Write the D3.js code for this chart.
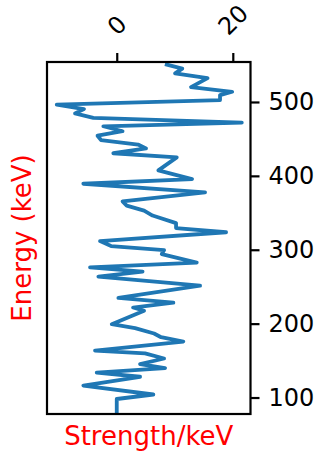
<!DOCTYPE html>
<html><head><meta charset="utf-8">
<script src="https://cdn.jsdelivr.net/npm/d3@7"></script>
<style>body{margin:0;background:#fff}svg{display:block}text{font-family:"DejaVu Sans",sans-serif}</style>
</head><body><svg id="c" width="322" height="451"></svg>
<script>
const strength = [8.3,11.3,10.05,15.65,12.8,19.9,17.8,17.8,-10.34,-5.64,-7.19,-4.03,21.55,-2.31,1.0,-3.31,-2.71,3.67,5.05,-0.59,10.34,7.17,12.98,-5.76,15.22,1.0,1.72,4.71,6.17,10.22,10.22,18.84,-2.88,-0.98,8.16,7.76,13.79,-4.6,4.45,-3.17,14.36,0.28,9.76,2.81,4.71,-0.86,3.16,6.43,7.64,11.48,-3.74,4.88,8.16,4.02,8.33,-3.45,4.02,-5.76,6.31,0.0,0.0];
const energy = [551.3,545.2,538.7,532.3,520.2,513.8,509.3,502.6,496.4,490.4,484.6,478.6,472.1,467.1,460.4,454.3,448.5,442.4,437.2,430.6,425.0,407.4,395.7,389.3,377.7,365.5,359.8,353.0,346.3,336.1,329.4,323.7,311.8,305.0,299.6,294.2,282.7,276.2,270.5,263.7,251.3,234.9,228.3,221.8,217.5,199.2,194.0,186.6,181.6,175.8,163.6,159.8,152.8,145.3,139.9,133.8,128.1,116.2,104.1,98.0,78.0];
const xTicks = [0, 20];
const yTicks = [100, 200, 300, 400, 500];
const xLabel = "Strength/keV";
const yLabel = "Energy (keV)";

const L = 47, R = 250.5, T = 62, B = 414;
const svg = d3.select("#c");
const x = d3.scaleLinear().domain([-12.02, 23.05]).range([L, R]);
const y = d3.scaleLinear().domain([77.7, 554.1]).range([B, T]);

svg.append("clipPath").attr("id","clip").append("rect")
  .attr("x",L).attr("y",T).attr("width",R-L).attr("height",B-T);

const pts = strength.map((s,i)=>[s, energy[i]]);
svg.append("path").datum(pts)
  .attr("clip-path","url(#clip)")
  .attr("fill","none").attr("stroke","#1f77b4").attr("stroke-width",3.8)
  .attr("stroke-linejoin","round").attr("stroke-linecap","butt")
  .attr("d", d3.line().x(d=>x(d[0])).y(d=>y(d[1])));

// right axis
const ya = svg.append("g").attr("transform",`translate(${R},0)`)
  .call(d3.axisRight(y).tickValues(yTicks).tickSize(9).tickPadding(9).tickFormat(d3.format("d")));
ya.select(".domain").remove();
ya.selectAll("line").attr("stroke","#000").attr("stroke-width",2.2);
ya.selectAll("text").attr("font-size",24).attr("fill","#000").attr("font-family","DejaVu Sans");

// top axis
const xa = svg.append("g").attr("transform",`translate(0,${T})`)
  .call(d3.axisTop(x).tickValues(xTicks).tickSize(9).tickFormat(d3.format("d")));
xa.select(".domain").remove();
xa.selectAll("line").attr("stroke","#000").attr("stroke-width",2.2);
xa.selectAll("text").attr("font-size",24).attr("fill","#000").attr("font-family","DejaVu Sans")
  .attr("dy",null).attr("y",0).attr("text-anchor","middle").attr("dominant-baseline","central")
  .each(function(){
    const t = d3.select(this);
    const w = this.getComputedTextLength();
    const h = 0.73*24;
    const bh = (w + h)*0.7071;
    const cy = 37 - T - bh/2;
    t.attr("transform",`translate(0,${cy}) rotate(-45)`);
  });

// frame
svg.append("rect").attr("x",L).attr("y",T).attr("width",R-L).attr("height",B-T)
  .attr("fill","none").attr("stroke","#000").attr("stroke-width",2.2);

svg.append("text").attr("x",(L+R)/2).attr("y",445).attr("text-anchor","middle")
  .attr("font-size",26).attr("fill","#ff0000").text(xLabel);
svg.append("text").attr("transform",`translate(31,${(T+B)/2}) rotate(-90)`).attr("text-anchor","middle")
  .attr("font-size",26).attr("fill","#ff0000").text(yLabel);
</script></body></html>
